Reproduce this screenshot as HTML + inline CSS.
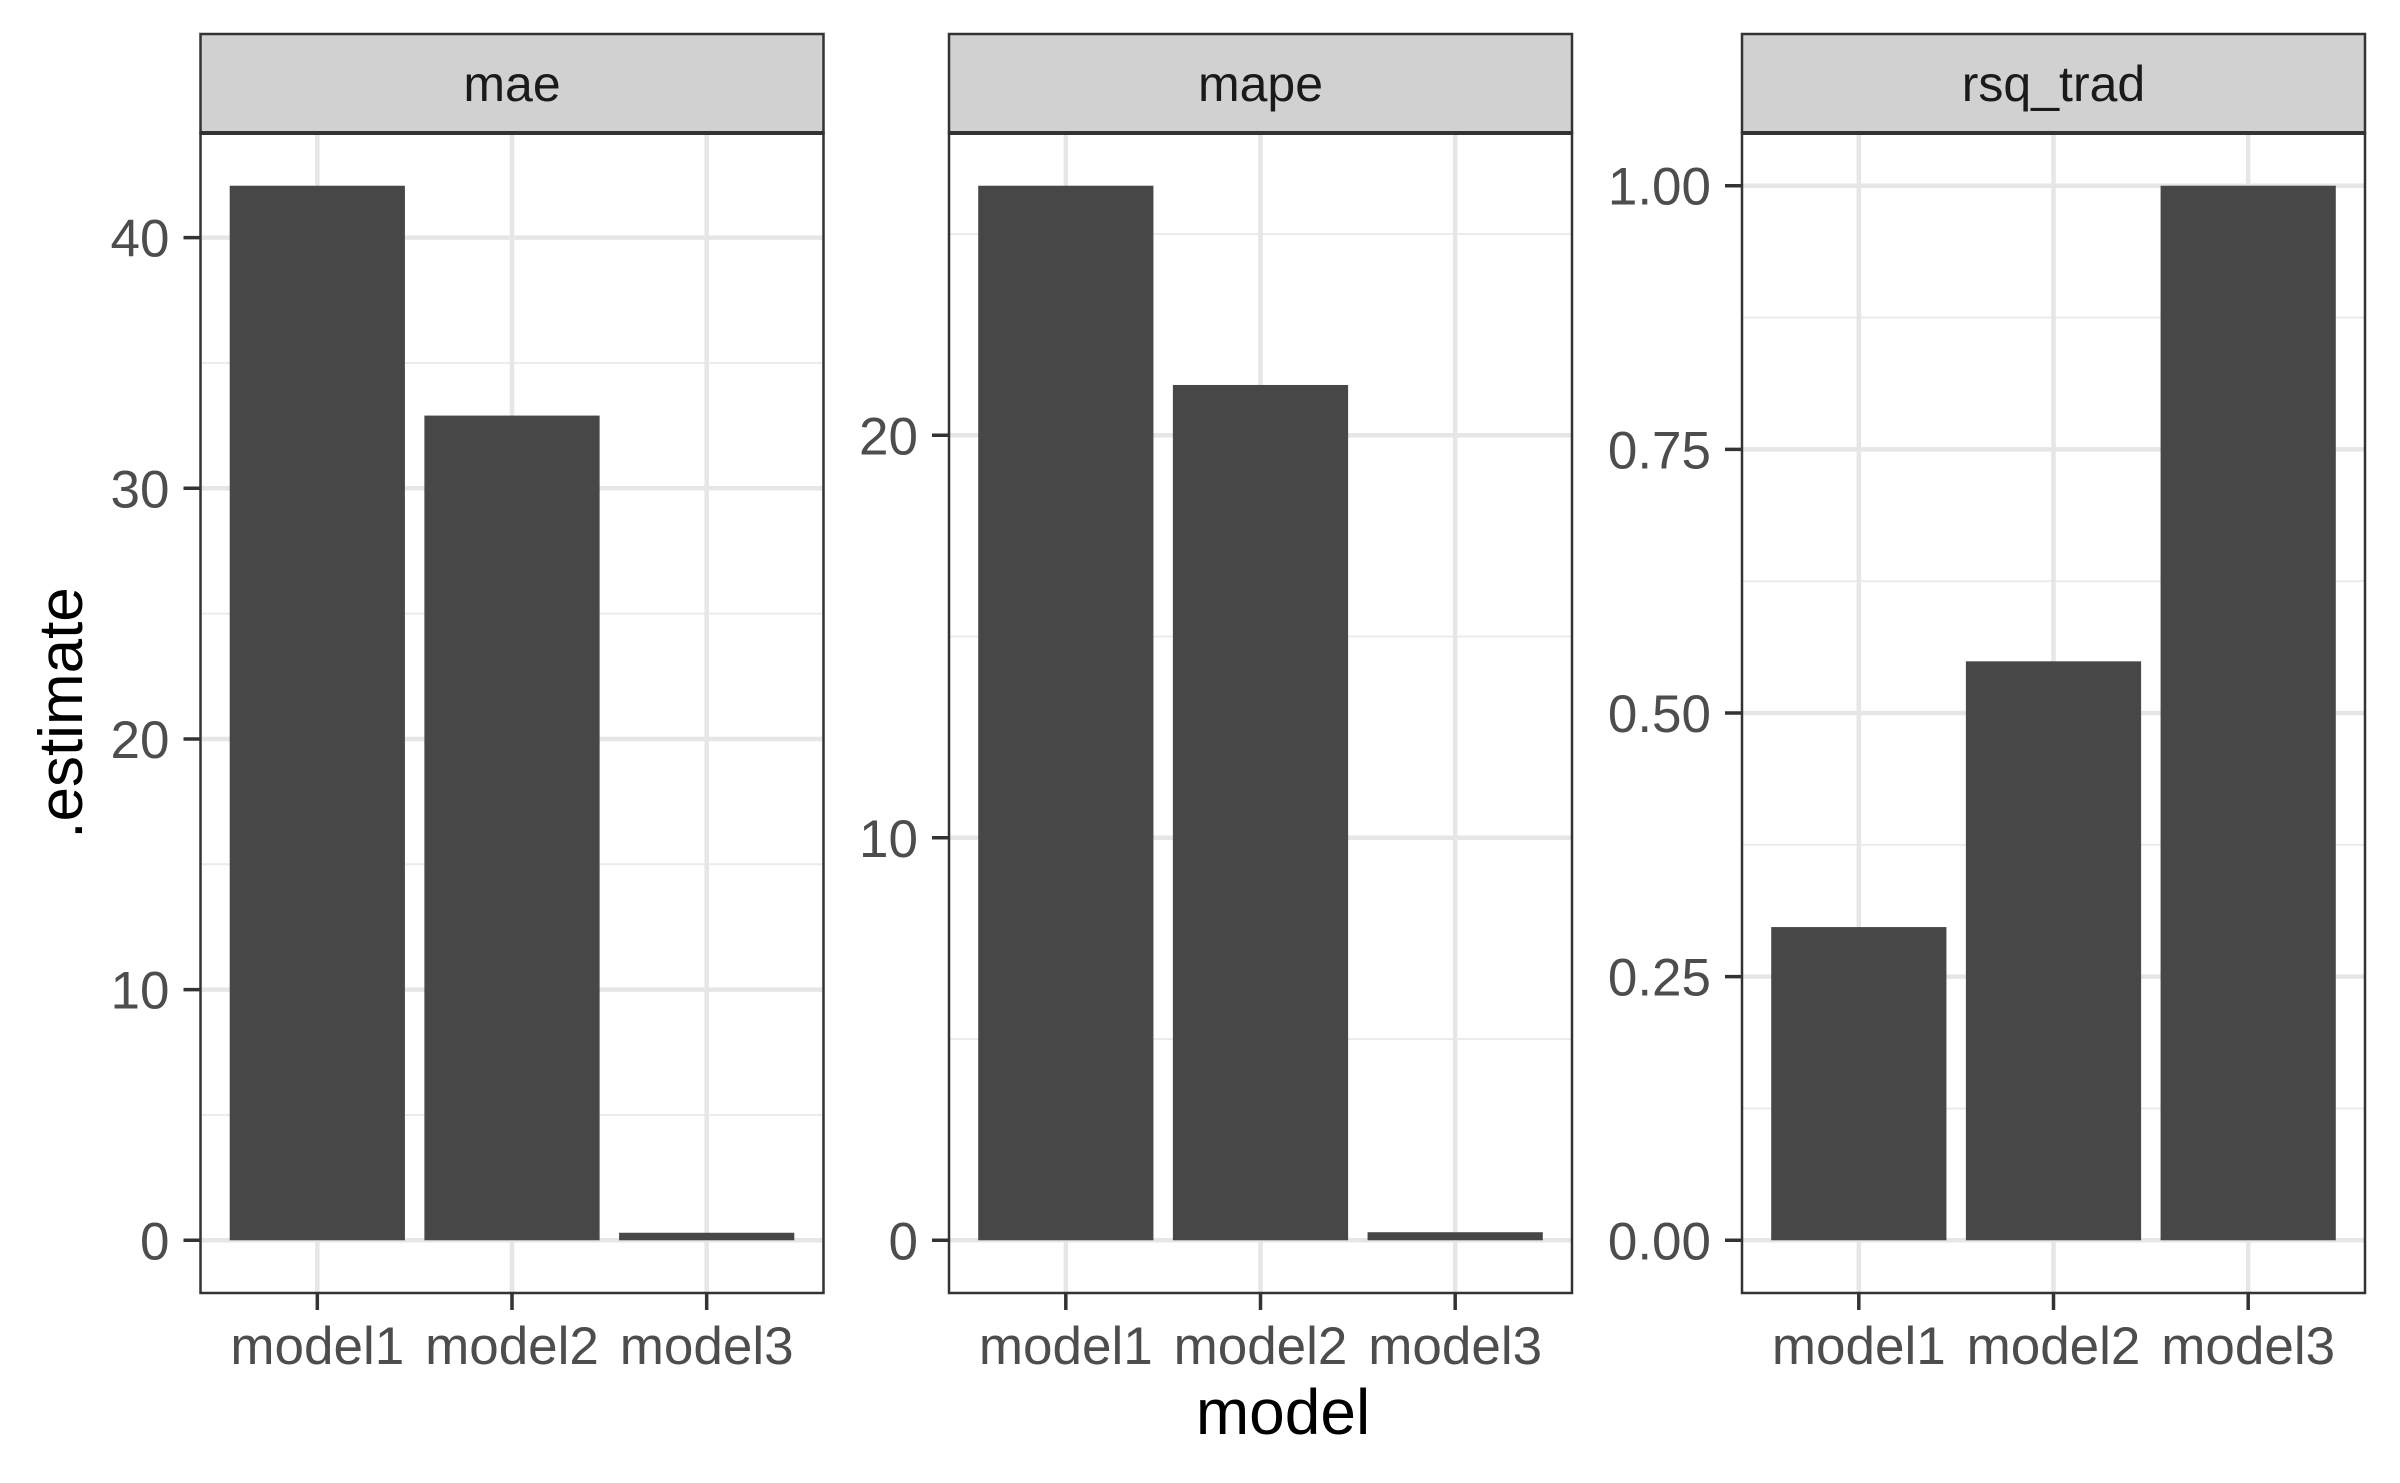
<!DOCTYPE html>
<html><head><meta charset="utf-8"><style>
html,body{margin:0;padding:0;background:#fff;}
svg{display:block;font-family:"Liberation Sans",sans-serif;}
</style></head><body>
<svg id="chart" width="2400" height="1483" viewBox="0 0 2400 1483" xmlns="http://www.w3.org/2000/svg">
<text x="1283" y="1434" font-size="64" text-anchor="middle" fill="#000">model</text>
<text x="82" y="713" font-size="62" text-anchor="middle" fill="#000" transform="rotate(-90 82 713)">.estimate</text>
</svg>
<script>
const categories = ["model1","model2","model3"];
const panelNames = ["mae","mape","rsq_trad"];
const maeValues = [42.07, 32.9, 0.3];
const mapeValues = [26.2, 21.25, 0.2];
const rsqValues = [0.297, 0.549, 1.0];
const maeTicks = [0,10,20,30,40];
const mapeTicks = [0,10,20];
const rsqTicks = [0,0.25,0.5,0.75,1.0];
const rsqTickLabels = ["0.00","0.25","0.50","0.75","1.00"];

const svg = document.getElementById('chart');
const NS = 'http://www.w3.org/2000/svg';
function mk(tag, attrs, parent){
  const e = document.createElementNS(NS, tag);
  for (const k in attrs) e.setAttribute(k, attrs[k]);
  (parent||svg).appendChild(e);
  return e;
}
const panels = [
  {x0:200.5, x1:823.5, vals:maeValues, ticks:maeTicks, labels:maeTicks.map(String)},
  {x0:949, x1:1572, vals:mapeValues, ticks:mapeTicks, labels:mapeTicks.map(String)},
  {x0:1742, x1:2365, vals:rsqValues, ticks:rsqTicks, labels:rsqTickLabels}
];
const stripTop = 34, plotTop = 133, plotBottom = 1293;
panels.forEach((p, i) => {
  const g = mk('g', {});
  
  
  const maxV = Math.max(...p.vals);
  const lo = -0.05 * maxV, hi = maxV * 1.05;
  const y = v => plotBottom - (v - lo) / (hi - lo) * (plotBottom - plotTop);
  const unit = (p.x1 - p.x0) / 3.2;
  const x = k => p.x0 + (k + 1 - 0.4) * unit;
  mk('rect', {x:p.x0, y:plotTop, width:p.x1-p.x0, height:plotBottom-plotTop, fill:'#fff'}, g);
  const step = p.ticks[1]-p.ticks[0];
  const minors = [];
  for (let t = 0; t < p.ticks.length; t++) minors.push(p.ticks[t] + step/2);
  minors.forEach(mv => {
    if (y(mv) <= plotTop) return;
    const ln = mk('line', {x1:p.x0, x2:p.x1, y1:y(mv), y2:y(mv), stroke:'#ebebeb', 'stroke-width':2}, g);
    
    
  });
  p.ticks.forEach(t => {
    const ln = mk('line', {x1:p.x0, x2:p.x1, y1:y(t), y2:y(t), stroke:'#e6e6e6', 'stroke-width':4.5}, g);
    
    
  });
  categories.forEach((c, k) => {
    const ln = mk('line', {x1:x(k), x2:x(k), y1:plotTop, y2:plotBottom, stroke:'#e6e6e6', 'stroke-width':4.5}, g);
    
    
  });
  p.vals.forEach((v, k) => {
    const bw = 0.9 * unit;
    const r = mk('rect', {x:x(k)-bw/2, y:y(v), width:bw, height:y(0)-y(v), fill:'#474747'}, g);
    
    
  });
  mk('rect', {x:p.x0, y:plotTop, width:p.x1-p.x0, height:plotBottom-plotTop, fill:'none', stroke:'#333', 'stroke-width':2.5}, g);
  const s = mk('rect', {x:p.x0, y:stripTop, width:p.x1-p.x0, height:plotTop-stripTop, fill:'#d1d1d1', stroke:'#333', 'stroke-width':2.5}, g);
  
  
  mk('line', {x1:p.x0, x2:p.x1, y1:plotTop, y2:plotTop, stroke:'#333', 'stroke-width':4}, g);
  const st = mk('text', {x:(p.x0+p.x1)/2, y:101, 'font-size':50, 'text-anchor':'middle', fill:'#1a1a1a'}, g);
  st.textContent = panelNames[i];
  
  
  p.ticks.forEach((t, j) => {
    mk('line', {x1:p.x0-17, x2:p.x0, y1:y(t), y2:y(t), stroke:'#333', 'stroke-width':3.5}, g);
    const tl = mk('text', {x:p.x0-31, y:y(t)+19, 'font-size':53, 'text-anchor':'end', fill:'#4d4d4d'}, g);
    tl.textContent = p.labels[j];
    
    
  });
  categories.forEach((c, k) => {
    mk('line', {x1:x(k), x2:x(k), y1:plotBottom, y2:plotBottom+17, stroke:'#333', 'stroke-width':3.5}, g);
    const tl = mk('text', {x:x(k), y:1364, 'font-size':53, 'text-anchor':'middle', fill:'#4d4d4d'}, g);
    tl.textContent = c;
    
    
  });
});
</script>
</body></html>
